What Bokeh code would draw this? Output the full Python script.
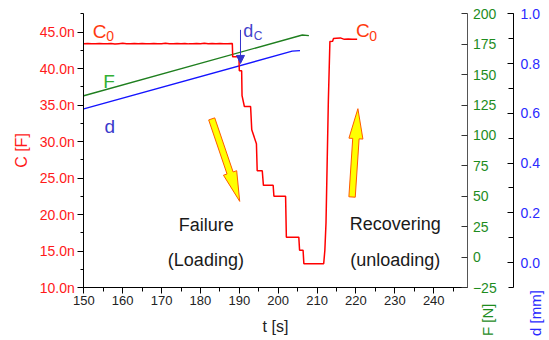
import math
from bokeh.plotting import figure
from bokeh.models import (Range1d, LinearAxis, SingleIntervalTicker, PrintfTickFormatter,
                          Label, Arrow, NormalHead)
from bokeh.embed import file_html
from bokeh.resources import INLINE

# ---------------- data ----------------
# capacitance C [nF] versus time t [s]
t_C = [150, 151, 152, 153, 154, 155, 156, 157, 158, 159, 160, 161, 162, 163, 164,
       165, 166, 167, 168, 169, 170, 171, 172, 173, 174, 175, 176, 177, 178, 179,
       180, 181, 182, 183, 184, 185, 186, 187, 188, 188.2,
       188.3, 189.9, 190.0, 190.6, 190.7, 191.3, 192.9, 193.2, 194.4, 194.6,
       195.9, 196.2, 198.7, 198.9, 201.9, 202.1, 205.3, 205.5, 206.4, 206.6,
       211.7, 212.0, 212.3, 212.9, 213.3, 214.0, 214.2, 215.0, 216.0, 217.0,
       218.0, 219.0, 220.3]
C_nF = [43.40, 43.42, 43.38, 43.41, 43.44, 43.39, 43.40, 43.43, 43.37, 43.41,
        43.45, 43.40, 43.38, 43.42, 43.40, 43.44, 43.39, 43.41, 43.43, 43.38,
        43.40, 43.46, 43.41, 43.39, 43.42, 43.40, 43.44, 43.38, 43.41, 43.43,
        43.40, 43.45, 43.39, 43.42, 43.40, 43.44, 43.41, 43.38, 43.42, 43.42,
        41.6, 41.6, 39.7, 39.7, 36.3, 34.8, 34.8, 31.6, 29.7, 26.0,
        26.0, 24.0, 24.0, 22.5, 22.5, 16.9, 16.9, 15.1, 15.1, 13.25,
        13.25, 15.1, 18.9, 35.6, 43.7, 43.75, 44.1, 44.15, 44.2, 44.0,
        44.05, 44.0, 44.0]
# force F [N]
t_F = [150.0, 206.2, 207.9]
F_N = [132.6, 182.6, 182.1]
# displacement d [mm]
t_d = [150.0, 203.6, 205.6]
d_mm = [0.618, 0.850, 0.852]

# axis extents
x_lim = [150, 248.8]
C_lim = [10, 47.5]
F_lim = [-25, 200]
d_lim = [-0.1, 1.0]

# ---------------- page geometry (pixels) ----------------
W, H = 546, 338
X0_PX = 83.3          # x pixel of t = x_lim[0]
PX_PER_S = 3.888
Y_BOT_PX = 287.0      # y pixel of the bottom of the value axes
Y_TOP_PX = 13.3       # y pixel of the top of the value axes
D_AXIS_PX = 513.0     # x pixel of the d axis
AX_H = Y_BOT_PX - Y_TOP_PX


def vrange(lim):
    per = AX_H / (lim[1] - lim[0])
    return Range1d(lim[0] - (H - Y_BOT_PX) / per, lim[0] + Y_BOT_PX / per)


def px2t(px):
    return x_lim[0] + (px - X0_PX) / PX_PER_S


def py2C(py):
    return C_lim[0] + (Y_BOT_PX - py) * (C_lim[1] - C_lim[0]) / AX_H


FONT = "Liberation Sans"
RED = "#ff1a1a"
GREEN = "#1e8c1e"
BLUE = "#2a2aff"

p = figure(width=W, height=H,
           x_range=Range1d(px2t(0), px2t(W)), y_range=vrange(C_lim),
           x_axis_type=None, y_axis_type=None,
           output_backend="svg", toolbar_location=None, min_border=0)
p.extra_y_ranges = {"F": vrange(F_lim), "d": vrange(d_lim)}
p.xgrid.visible = False
p.ygrid.visible = False
p.outline_line_color = None
p.background_fill_color = "white"
p.border_fill_color = "white"

# bottom axis
xa = LinearAxis(ticker=SingleIntervalTicker(interval=10, num_minor_ticks=2),
                fixed_location=C_lim[0], bounds=(x_lim[0], x_lim[1]))
xa.axis_label = "t [s]"
xa.axis_label_text_font = FONT
xa.axis_label_text_font_size = "16px"
xa.axis_label_text_font_style = "normal"
xa.axis_label_text_color = "#222222"
xa.axis_label_standoff = 10
xa.major_label_text_font = FONT
xa.major_label_text_font_size = "13px"
xa.major_label_text_color = "#222222"
xa.major_label_standoff = 2
xa.major_tick_out = 6
xa.major_tick_in = 0
xa.minor_tick_out = 4
xa.minor_tick_in = 0
xa.axis_line_color = "black"
p.add_layout(xa, "below")

# left axis (C)
ya = LinearAxis(ticker=SingleIntervalTicker(interval=5, num_minor_ticks=2),
                formatter=PrintfTickFormatter(format="%.1fn"),
                fixed_location=x_lim[0], bounds=(C_lim[0], C_lim[1]))
ya.axis_label = "C [F]"
ya.axis_label_text_font = FONT
ya.axis_label_text_font_size = "16px"
ya.axis_label_text_font_style = "normal"
ya.axis_label_text_color = RED
ya.axis_label_standoff = 6
ya.major_label_text_font = FONT
ya.major_label_text_font_size = "14px"
ya.major_label_text_color = RED
ya.major_label_standoff = 3
ya.major_tick_out = 6
ya.major_tick_in = 0
ya.minor_tick_out = 3
ya.minor_tick_in = 0
ya.axis_line_color = "black"
p.add_layout(ya, "left")

# right axis F
fa = LinearAxis(y_range_name="F", ticker=SingleIntervalTicker(interval=25, num_minor_ticks=0),
                fixed_location=x_lim[1], bounds=(F_lim[0], F_lim[1]))
fa.major_tick_in = 6
fa.major_tick_out = 0
fa.minor_tick_line_color = None
fa.axis_line_color = "#555555"
fa.major_tick_line_color = "#333333"
fa.major_label_text_font = FONT
fa.major_label_text_font_size = "14px"
fa.major_label_text_color = GREEN
fa.major_label_standoff = 5
p.add_layout(fa, "right")

# right axis d
da = LinearAxis(y_range_name="d", ticker=SingleIntervalTicker(interval=0.2, num_minor_ticks=2),
                formatter=PrintfTickFormatter(format="%.1f"),
                fixed_location=px2t(D_AXIS_PX), bounds=(d_lim[0], d_lim[1]))
da.major_tick_in = 6
da.major_tick_out = 0
da.minor_tick_in = 5
da.minor_tick_out = 0
da.axis_line_color = "black"
da.major_label_text_font = FONT
da.major_label_text_font_size = "14px"
da.major_label_text_color = BLUE
da.major_label_standoff = 7
p.add_layout(da, "right")

# series
p.line(t_F, F_N, y_range_name="F", line_color="#1f7f1f", line_width=1.4)
p.line(t_d, d_mm, y_range_name="d", line_color="#1414ff", line_width=1.4)
p.line(t_C, C_nF, line_color="#ff0000", line_width=1.5)

# block arrows (tail -> tip, data coordinates)
fail_arrow = [(182.9, 33.1), (190.1, 21.8)]
recov_arrow = [(219.0, 22.4), (220.5, 34.5)]
SX = PX_PER_S
SY = AX_H / (C_lim[1] - C_lim[0])


def block_arrow(tail, tip, w, h, head_len):
    tx, ty = tail[0] * SX, tail[1] * SY
    px, py = tip[0] * SX, tip[1] * SY
    dx, dy = px - tx, py - ty
    L = math.hypot(dx, dy)
    ux, uy = dx / L, dy / L
    nx, ny = -uy, ux
    bx, by = px - ux * head_len, py - uy * head_len
    pts = [(tx + nx * w, ty + ny * w), (bx + nx * w, by + ny * w), (bx + nx * h, by + ny * h),
           (px, py), (bx - nx * h, by - ny * h), (bx - nx * w, by - ny * w),
           (tx - nx * w, ty - ny * w)]
    return [a / SX for a, _ in pts], [b / SY for _, b in pts]


for arr in (fail_arrow, recov_arrow):
    xs, ys = block_arrow(arr[0], arr[1], 3.2, 7.0, 30)
    p.patch(xs, ys, fill_color="#ffff00", line_color="#ff5a00", line_width=1)

# d_C arrow
p.add_layout(Arrow(end=NormalHead(size=8, fill_color="#3333cc", line_color="#3333cc"),
                   x_start=190.3, y_start=45.3, x_end=190.3, y_end=40.7,
                   line_color="#3333cc", line_width=1))


def lab(x, y, text, size, color, align="left", baseline="alphabetic", angle=0.0):
    p.add_layout(Label(x=x, y=y, text=text, text_font=FONT, text_font_size=size,
                       text_color=color, text_align=align, text_baseline=baseline,
                       angle=angle))


C0_COL = "#ff3a10"
lab(152.3, 45.1, "C", "19px", C0_COL)
lab(155.8, 44.5, "0", "14px", C0_COL)
lab(220.0, 45.2, "C", "19px", C0_COL)
lab(223.4, 44.5, "0", "14px", C0_COL)
lab(155.0, 38.2, "F", "19px", "#33b033")
lab(155.3, 32.1, "d", "19px", "#3a3acc")
lab(191.0, 45.1, "d", "18px", "#4444cc")
lab(193.7, 44.5, "C", "12px", "#4444cc")

lab(181.5, 18.6, "Failure", "18px", "#1a1a1a", align="center")
lab(181.4, 13.8, "(Loading)", "18px", "#1a1a1a", align="center")
lab(230.1, 18.7, "Recovering", "18px", "#1a1a1a", align="center")
lab(230.1, 13.8, "(unloading)", "18px", "#1a1a1a", align="center")

# rotated titles of the right axes, below the plot
lab(px2t(486.5), py2C(335.5), "F [N]", "15px", GREEN, angle=math.pi / 2)
lab(px2t(534.5), py2C(335.5), "d [mm]", "15px", BLUE, angle=math.pi / 2)

open("out.html", "w").write(file_html(p, INLINE))
